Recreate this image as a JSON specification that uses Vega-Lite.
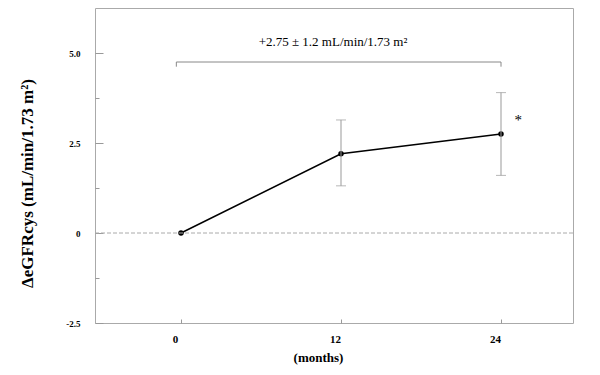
{
  "$schema": "https://vega.github.io/schema/vega-lite/v6.json",
  "width": 478,
  "height": 315,
  "autosize": {"type": "none"},
  "padding": {"left": 95, "top": 8, "right": 27, "bottom": 52},
  "background": "white",
  "config": {"font": "Liberation Serif", "view": {"stroke": "#aaa", "strokeWidth": 1}},
  "datasets": {
    "series": [
      {"month": 0, "value": 0},
      {"month": 12, "value": 2.2},
      {"month": 24, "value": 2.75}
    ],
    "zero": [{"value": 0}],
    "bars": [
      {"month": 12, "value": 1.31, "value2": 3.14},
      {"month": 24, "value": 1.6, "value2": 3.9}
    ],
    "bracket": [
      {"month": -0.35, "value": 4.62, "o": 1},
      {"month": -0.35, "value": 4.75, "o": 2},
      {"month": 24, "value": 4.75, "o": 3},
      {"month": 24, "value": 4.62, "o": 4}
    ],
    "notes": [
      {"month": 11.4, "value": 5.3, "label": "+2.75 ± 1.2 mL/min/1.73 m²", "size": 13},
      {"month": 25.3, "value": 3.15, "label": "*", "size": 15}
    ]
  },
  "layer": [
    {
      "data": {"name": "series"},
      "mark": {"type": "line", "color": "black", "strokeWidth": 1.5, "point": {"filled": true, "color": "black", "size": 30}},
      "encoding": {
        "x": {
          "field": "month", "type": "quantitative", "title": "(months)",
          "scale": {"domain": [-6.45, 29.4], "nice": false, "zero": false},
          "axis": {
            "values": [0, 12, 24],
            "domain": false, "grid": false,
            "tickColor": "#999", "tickSize": -4,
            "labelPadding": 14, "labelOffset": -6,
            "labelFont": "Liberation Serif", "labelFontSize": 11, "labelFontWeight": "bold", "labelColor": "black",
            "titleFont": "Liberation Serif", "titleFontSize": 13, "titleFontWeight": "bold", "titleColor": "black",
            "titleX": 223, "titleY": 34, "titleBaseline": "middle"
          }
        },
        "y": {
          "field": "value", "type": "quantitative", "title": "ΔeGFRcys (mL/min/1.73 m²)",
          "scale": {"domain": [-2.5, 6.25], "nice": false, "zero": false},
          "axis": {
            "values": [-2.5, -1.25, 0, 1.25, 2.5, 3.75, 5],
            "labelExpr": "datum.value == 5 ? '5.0' : datum.value == 2.5 ? '2.5' : datum.value == 0 ? '0' : datum.value == -2.5 ? '-2.5' : ''",
            "domain": false, "grid": false,
            "tickColor": "#999",
            "tickSize": {"condition": {"test": "datum.value % 2.5 == 0", "value": -8}, "value": -4},
            "labelPadding": 23, "labelOverlap": false, "labelFlush": false,
            "labelFont": "Liberation Serif", "labelFontSize": 9, "labelFontWeight": "bold", "labelColor": "black",
            "titleFont": "Liberation Serif", "titleFontSize": 17, "titleFontWeight": "bold", "titleColor": "black",
            "titleX": -68, "titleY": 175, "titleBaseline": "middle"
          }
        }
      }
    },
    {
      "data": {"name": "zero"},
      "mark": {"type": "rule", "color": "#aaa", "strokeDash": [4, 2], "strokeWidth": 1},
      "encoding": {"y": {"field": "value", "type": "quantitative", "title": "ΔeGFRcys (mL/min/1.73 m²)"}}
    },
    {
      "data": {"name": "bars"},
      "mark": {"type": "errorbar", "color": "#999", "thickness": 1, "ticks": {"size": 10, "color": "#999", "thickness": 1}},
      "encoding": {
        "x": {"field": "month", "type": "quantitative", "title": "(months)"},
        "y": {"field": "value", "type": "quantitative", "title": "ΔeGFRcys (mL/min/1.73 m²)"},
        "y2": {"field": "value2"}
      }
    },
    {
      "data": {"name": "bracket"},
      "mark": {"type": "line", "color": "#888", "strokeWidth": 1},
      "encoding": {
        "x": {"field": "month", "type": "quantitative", "title": "(months)"},
        "y": {"field": "value", "type": "quantitative", "title": "ΔeGFRcys (mL/min/1.73 m²)"},
        "order": {"field": "o"}
      }
    },
    {
      "data": {"name": "notes"},
      "mark": {"type": "text", "font": "Liberation Serif", "color": "black", "fill": "black", "align": "center", "baseline": "middle"},
      "encoding": {
        "x": {"field": "month", "type": "quantitative", "title": "(months)"},
        "y": {"field": "value", "type": "quantitative", "title": "ΔeGFRcys (mL/min/1.73 m²)"},
        "text": {"field": "label"},
        "size": {"field": "size", "type": "quantitative", "scale": null}
      }
    }
  ]
}
